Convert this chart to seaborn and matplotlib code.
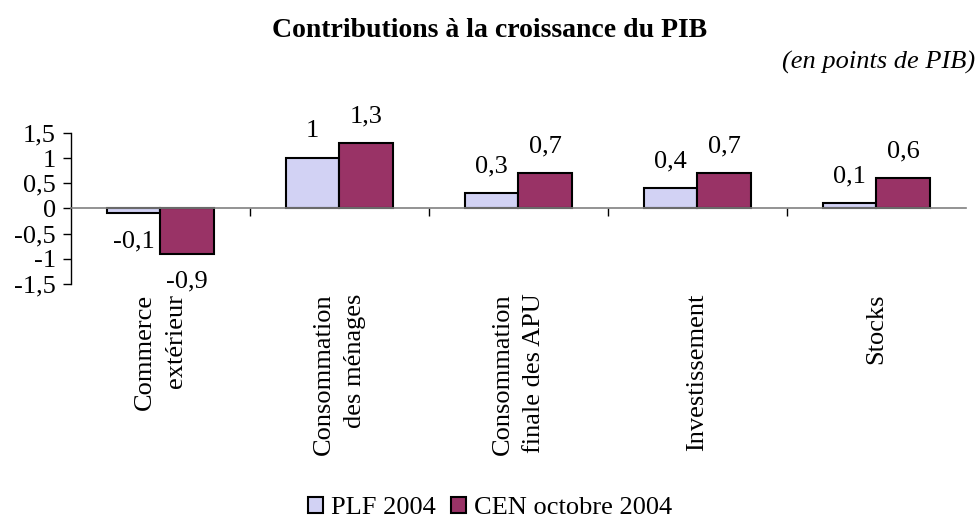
import matplotlib
matplotlib.use("Agg")
import matplotlib.pyplot as plt
import seaborn as sns
import pandas as pd

categories = ["Commerce\nextérieur", "Consommation\ndes ménages",
              "Consommation\nfinale des APU", "Investissement", "Stocks"]
plf_2004 = [-0.1, 1.0, 0.3, 0.4, 0.1]
cen_2004 = [-0.9, 1.3, 0.7, 0.7, 0.6]
series = ["PLF 2004", "CEN octobre 2004"]
yticks = [-1.5, -1, -0.5, 0, 0.5, 1, 1.5]

df = pd.DataFrame({
    "categorie": categories * 2,
    "serie": [series[0]] * len(categories) + [series[1]] * len(categories),
    "valeur": plf_2004 + cen_2004,
})

sns.set_style("white")
plt.rcParams["font.family"] = ["Liberation Serif", "DejaVu Serif"]
plt.rcParams["text.color"] = "black"
plt.rcParams["ytick.labelcolor"] = "black"

fig = plt.figure(figsize=(9.8, 5.2), dpi=100)
ax = fig.add_axes([0.0724, 0.454, 0.9133, 0.2904])

palette = {series[0]: "#d2d2f4", series[1]: "#993366"}
sns.barplot(data=df, x="categorie", y="valeur", hue="serie", order=categories,
            hue_order=series, palette=palette, width=0.6, gap=0,
            edgecolor="black", linewidth=1.5, saturation=1, ax=ax)

# étiquettes de valeurs
def fmt(v):
    return ("%g" % v).replace(".", ",")

for cont in ax.containers:
    for bar in cont:
        h = bar.get_height()
        x = bar.get_x() + bar.get_width() / 2
        if h >= 0:
            ax.annotate(fmt(h), (x, h), xytext=(0, 15), textcoords="offset points",
                        ha="center", va="baseline", fontsize=19)
        else:
            ax.annotate(fmt(h), (x, h), xytext=(0, -12), textcoords="offset points",
                        ha="center", va="top", fontsize=19)

ax.set_ylim(-1.5, 1.5)
ax.set_xlim(-0.5, len(categories) - 0.5)
ax.set_yticks(yticks)
ax.set_yticklabels([fmt(t) for t in yticks], fontsize=19)
ax.tick_params(axis="y", direction="out", length=6, width=1, color="black",
               labelcolor="black", left=True, pad=5)

# axe horizontal en zéro, graduations entre les catégories
ax.spines["bottom"].set_position(("data", 0))
ax.spines["bottom"].set_color("#808080")
ax.spines["bottom"].set_linewidth(1.2)
ax.spines["top"].set_visible(False)
ax.spines["right"].set_visible(False)
ax.spines["left"].set_color("black")
ax.spines["left"].set_linewidth(1)
ax.set_xticks([i + 0.5 for i in range(len(categories) - 1)])
ax.set_xticklabels([])
ax.tick_params(axis="x", direction="out", length=6, width=1, color="black", bottom=True)
ax.set_xlabel("")
ax.set_ylabel("")

for i, cat in enumerate(categories):
    ax.text(i, -0.065, cat, transform=ax.get_xaxis_transform(), rotation=90,
            ha="center", va="top", multialignment="right", fontsize=19,
            linespacing=1.5)

fig.text(0.5, 0.929, "Contributions à la croissance du PIB", ha="center", va="baseline",
         fontsize=20, fontweight="bold")
fig.text(0.995, 0.869, "(en points de PIB)", ha="right", va="baseline",
         fontsize=19, style="italic")

handles, labels = ax.get_legend_handles_labels()
ax.legend_.remove()
fig.legend(handles, labels, loc="center", bbox_to_anchor=(0.5, 0.023), ncol=2,
           frameon=False, fontsize=19, handlelength=0.57, handleheight=0.57,
           handletextpad=0.3, columnspacing=0.55, borderpad=0)

fig.savefig("out.png", dpi=100)
